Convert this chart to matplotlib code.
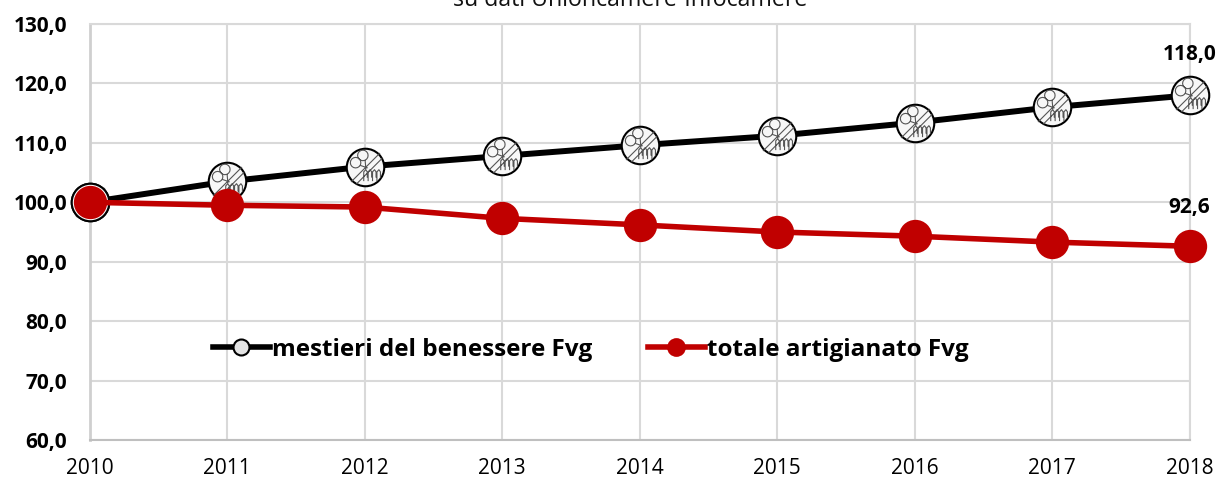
"""Mestieri del benessere vs totale artigianato Fvg, index 2010=100."""
import matplotlib
matplotlib.use("Agg")  # no display in the sandbox
import matplotlib.pyplot as plt
import numpy as np
from matplotlib.path import Path

years = [2010, 2011, 2012, 2013, 2014, 2015, 2016, 2017, 2018]
benessere = [100.0, 103.5, 106.0, 107.8, 109.6, 111.2, 113.4, 116.0, 118.0]
artigianato = [100.0, 99.5, 99.2, 97.3, 96.2, 95.0, 94.3, 93.3, 92.6]
y_ticks = [60, 70, 80, 90, 100, 110, 120, 130]

label_benessere = "mestieri del benessere Fvg"
label_artigianato = "totale artigianato Fvg"
subtitle = "su dati Unioncamere-Infocamere"

BLACK = "#000000"
RED = "#C00000"
GRID = "#D9D9D9"

plt.rcParams["font.family"] = ["Open Sans", "DejaVu Sans"]


def icon_marker():
    """Scissors and comb glyph used inside the black series marker."""
    verts, codes = [], []

    def add_line(points):
        for i, p in enumerate(points):
            verts.append(p)
            codes.append(Path.MOVETO if i == 0 else Path.LINETO)

    # diagonal divider
    add_line([(-0.66, -0.66), (0.66, 0.66)])
    add_line([(-0.42, -0.76), (0.76, 0.42)])
    # scissor loops
    for cx, cy, r in [(-0.45, 0.22, 0.24), (-0.12, 0.55, 0.24)]:
        t = np.linspace(0, 2 * np.pi, 17)
        add_line(list(zip(cx + r * np.cos(t), cy + r * np.sin(t))))
    add_line([(-0.25, 0.1), (0.1, -0.02)])
    add_line([(-0.02, 0.34), (0.02, -0.08)])
    # comb along the lower right
    for x0 in [-0.08, 0.12, 0.32, 0.52]:
        add_line([(x0, -0.62), (x0, -0.2), (x0 + 0.09, -0.1), (x0 + 0.16, -0.2), (x0 + 0.16, -0.46)])
    return Path(verts, codes)


fig = plt.figure(figsize=(12.17, 4.8), dpi=100)
ax = fig.add_axes([89.5 / 1217, 1 - 440 / 480, 1100 / 1217, 416 / 480])

ax.set_xlim(2010, 2018)
ax.set_ylim(60, 130)
ax.set_xticks(years)
ax.set_yticks(y_ticks)
ax.set_yticklabels([f"{v:.1f}".replace(".", ",") for v in y_ticks], fontsize=15, fontweight="bold")
ax.tick_params(axis="x", labelsize=15, length=0, pad=13)
ax.tick_params(axis="y", length=0, pad=16)
ax.grid(True, color=GRID, linewidth=1.5)
ax.set_axisbelow(True)
for spine in ax.spines.values():
    spine.set_color(GRID)
    spine.set_linewidth(1.5)
ax.spines["bottom"].set_color("#BFBFBF")
ax.spines["left"].set_color("#CFCFCF")
ax.spines["left"].set_linewidth(2)

ax.plot(years, benessere, color=BLACK, linewidth=4.3, marker="o", markersize=27,
        markerfacecolor="#F7F7F7", markeredgecolor=BLACK, markeredgewidth=1.5,
        clip_on=False, zorder=3)
ax.plot(years, benessere, linestyle="none", marker=icon_marker(), markersize=25,
        markerfacecolor="none", markeredgecolor="#555555", markeredgewidth=0.8,
        clip_on=False, zorder=4)
ax.plot(years[:1], benessere[:1], linestyle="none", marker="o", markersize=27,
        markerfacecolor="#FFFFFF", markeredgecolor=BLACK, markeredgewidth=1.5,
        clip_on=False, zorder=4.5)
ax.plot(years, artigianato, color=RED, linewidth=4, marker="o", markersize=24,
        markeredgewidth=0, clip_on=False, zorder=5)

ax.annotate(f"{benessere[-1]:.1f}".replace(".", ","), (years[-1], benessere[-1]),
            xytext=(0, 22), textcoords="offset points", ha="center", va="bottom",
            fontsize=15, fontweight="bold", annotation_clip=False)
ax.annotate(f"{artigianato[-1]:.1f}".replace(".", ","), (years[-1], artigianato[-1]),
            xytext=(0, 20), textcoords="offset points", ha="center", va="bottom",
            fontsize=15, fontweight="bold", annotation_clip=False)

handle_b = plt.Line2D([], [], color=BLACK, linewidth=4, marker="o", markersize=11.5,
                      markerfacecolor="#E4E4E4", markeredgecolor=BLACK, markeredgewidth=1.5)
handle_a = plt.Line2D([], [], color=RED, linewidth=4, marker="o", markersize=13.5, markeredgewidth=0)
ax.legend([handle_b, handle_a], [label_benessere, label_artigianato],
          ncol=2, loc="center", bbox_to_anchor=(501 / 1100, 1 - (350 - 24) / 416),
          frameon=False, prop={"weight": "bold", "size": 17.5},
          handlelength=2.35, handletextpad=0.08, columnspacing=2.3)

fig.text(630 / 1217, 1 + 0 / 480, subtitle, ha="center", va="center", fontsize=16.7, color="#111111")

fig.savefig("out.png", dpi=100)
plt.close(fig)
